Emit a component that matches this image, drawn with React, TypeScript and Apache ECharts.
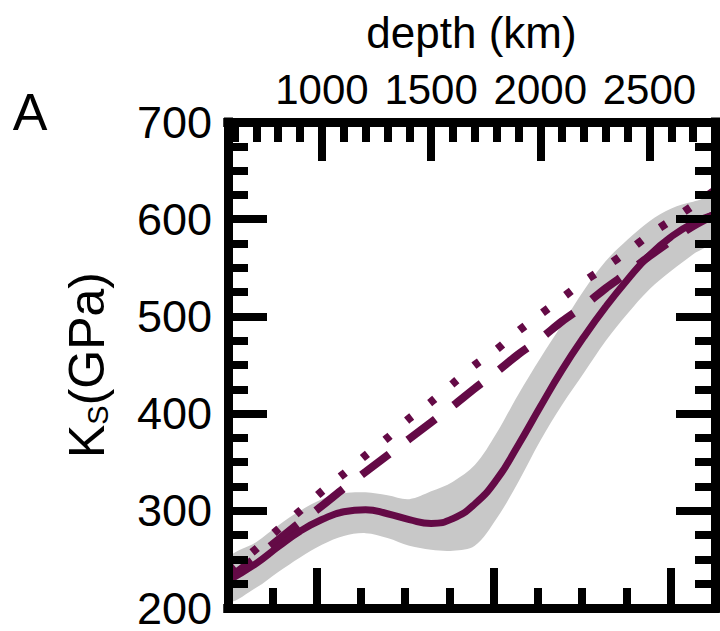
import React, { useEffect, useRef } from "react";
import * as echarts from "echarts";

// depth (km) sample positions
const depthKm = [570, 700, 800, 900, 1000, 1100, 1200, 1300, 1400, 1500, 1600, 1700, 1800, 1900, 2000, 2100, 2200, 2300, 2400, 2500, 2600, 2700, 2800];
// K_S (GPa) model curve (solid)
const solidKs = [228, 246, 263, 279, 291, 299, 301, 297, 291, 287, 292, 307, 332, 368, 407, 445, 479, 510, 538, 563, 582, 596, 605];
// uncertainty band
const bandUpper = [250, 268, 285, 300, 312, 318, 319, 316, 312, 320, 330, 347, 380, 420, 457, 492, 527, 557, 579, 598, 611, 618, 621];
const bandLower = [207, 221, 237, 252, 265, 274, 277, 272, 264, 260, 259, 264, 292, 330, 372, 409, 442, 475, 503, 528, 547, 564, 580];
// reference profiles
const dashedKs = [230, 252, 270, 288, 305, 323, 340, 357, 374, 391, 408, 426, 443, 461, 477, 495, 511, 529, 545, 562, 578, 593, 605];
const dottedKs = [237, 261, 281, 300, 320, 338, 357, 375, 395, 412, 431, 450, 466, 485, 502, 519, 536, 551, 567, 584, 599, 614, 630];

// axis ticks
const depthMajorTicks = [1000, 1500, 2000, 2500];
const depthMinorTicks = [600, 700, 800, 900, 1100, 1200, 1300, 1400, 1600, 1700, 1800, 1900, 2100, 2200, 2300, 2400, 2600, 2700];
const pressureMajorTicks = [40, 80, 120];

const PURPLE = "#640a46";
const GRAY = "#c8c8c8";
const FONT = "Liberation Sans, Arial, Helvetica, sans-serif";

export default function App() {
  const ref = useRef<HTMLDivElement>(null);

  useEffect(() => {
    if (!ref.current) return;
    const chart = echarts.init(ref.current, null, { renderer: "svg" });

    const frameLine = { show: true, onZero: false, lineStyle: { color: "#000", width: 9, cap: "square" } };
    const tickStyle = { color: "#000", width: 8 };

    const pairs = (ys: number[]) => depthKm.map((d, i) => [d, ys[i]]);

    const option: any = {
      animation: false,
      backgroundColor: "#fff",
      grid: { left: 228, right: 5, top: 122, bottom: 23, containLabel: false },
      xAxis: [
        {
          type: "value",
          position: "top",
          min: 570,
          max: 2800,
          z: 10,
          name: "depth (km)",
          nameLocation: "middle",
          nameGap: 68,
          nameTextStyle: { fontSize: 44, color: "#000", fontFamily: FONT },
          axisLine: frameLine,
          axisTick: { show: true, inside: true, length: 39, lineStyle: tickStyle, customValues: depthMajorTicks },
          axisLabel: {
            show: true,
            customValues: depthMajorTicks,
            formatter: (v: number) => String(v),
            fontSize: 42,
            color: "#000",
            fontFamily: FONT,
            margin: 12,
          },
          splitLine: { show: false },
        },
        {
          type: "value",
          position: "top",
          min: 570,
          max: 2800,
          z: 10,
          axisLine: frameLine,
          axisTick: { show: true, inside: true, length: 20, lineStyle: tickStyle, customValues: depthMinorTicks },
          axisLabel: { show: false },
          splitLine: { show: false },
        },
        {
          type: "value",
          position: "bottom",
          min: 20,
          max: 130,
          interval: 10,
          z: 10,
          axisLine: frameLine,
          axisTick: { show: true, inside: true, length: 20, lineStyle: tickStyle },
          axisLabel: { show: false },
          splitLine: { show: false },
        },
        {
          type: "value",
          position: "bottom",
          min: 20,
          max: 130,
          z: 10,
          axisLine: frameLine,
          axisTick: { show: true, inside: true, length: 40, lineStyle: tickStyle, customValues: pressureMajorTicks },
          axisLabel: { show: false },
          splitLine: { show: false },
        },
      ],
      yAxis: [
        {
          type: "value",
          position: "left",
          min: 200,
          max: 700,
          interval: 100,
          z: 10,
          name: "{a|K}{b|S}{a|(GPa)}",
          nameLocation: "middle",
          nameRotate: 90,
          nameGap: 116,
          nameTextStyle: {
            color: "#000",
            fontFamily: FONT,
            fontSize: 50,
            rich: {
              a: { fontSize: 50, lineHeight: 54, fontFamily: FONT, color: "#000", verticalAlign: "bottom" },
              b: { fontSize: 29, lineHeight: 29, fontFamily: FONT, color: "#000", verticalAlign: "bottom" },
            },
          },
          axisLine: frameLine,
          axisTick: { show: true, inside: true, length: 39, lineStyle: tickStyle },
          minorTick: { show: true, splitNumber: 4, length: 20, lineStyle: tickStyle },
          axisLabel: { show: true, fontSize: 45, color: "#000", fontFamily: FONT, margin: 16, showMinLabel: true, showMaxLabel: true },
          splitLine: { show: false },
        },
        {
          type: "value",
          position: "right",
          min: 200,
          max: 700,
          interval: 100,
          z: 10,
          axisLine: frameLine,
          axisTick: { show: true, inside: true, length: 39, lineStyle: tickStyle },
          minorTick: { show: true, splitNumber: 4, length: 20, lineStyle: tickStyle },
          axisLabel: { show: false },
          splitLine: { show: false },
        },
      ],
      graphic: [
        {
          type: "text",
          x: 30,
          y: 112,
          style: { text: "A", fontSize: 52, fontFamily: FONT, fill: "#000", align: "center", verticalAlign: "middle" },
        },
      ],
      series: [
        {
          type: "custom",
          xAxisIndex: 0,
          yAxisIndex: 0,
          clip: true,
          silent: true,
          z: 1,
          data: [[depthKm[0], bandLower[0]]],
          renderItem: (params: any, api: any) => {
            const pts: number[][] = [];
            for (let i = 0; i < depthKm.length; i++) pts.push(api.coord([depthKm[i], bandUpper[i]]));
            for (let i = depthKm.length - 1; i >= 0; i--) pts.push(api.coord([depthKm[i], bandLower[i]]));
            return {
              type: "polygon",
              shape: { points: pts, smooth: 0.35 },
              style: { fill: GRAY, stroke: null },
            };
          },
        },
        {
          type: "line",
          xAxisIndex: 0,
          yAxisIndex: 0,
          data: pairs(dottedKs),
          smooth: 0.3,
          symbol: "none",
          clip: true,
          lineStyle: { color: PURPLE, width: 8, type: [7, 22], dashOffset: 27, cap: "butt" },
        },
        {
          type: "line",
          xAxisIndex: 0,
          yAxisIndex: 0,
          data: pairs(dashedKs),
          smooth: 0.3,
          symbol: "none",
          clip: true,
          lineStyle: { color: PURPLE, width: 8, type: [35, 23], dashOffset: 5, cap: "butt" },
        },
        {
          type: "line",
          xAxisIndex: 0,
          yAxisIndex: 0,
          data: pairs(solidKs),
          smooth: 0.5,
          symbol: "none",
          clip: true,
          lineStyle: { color: PURPLE, width: 7 },
        },
      ],
    };

    chart.setOption(option);
    return () => chart.dispose();
  }, []);

  return (
    <div
      ref={ref}
      style={{ position: "absolute", left: 0, top: 0, width: 720, height: 631, background: "#fff" }}
    />
  );
}
